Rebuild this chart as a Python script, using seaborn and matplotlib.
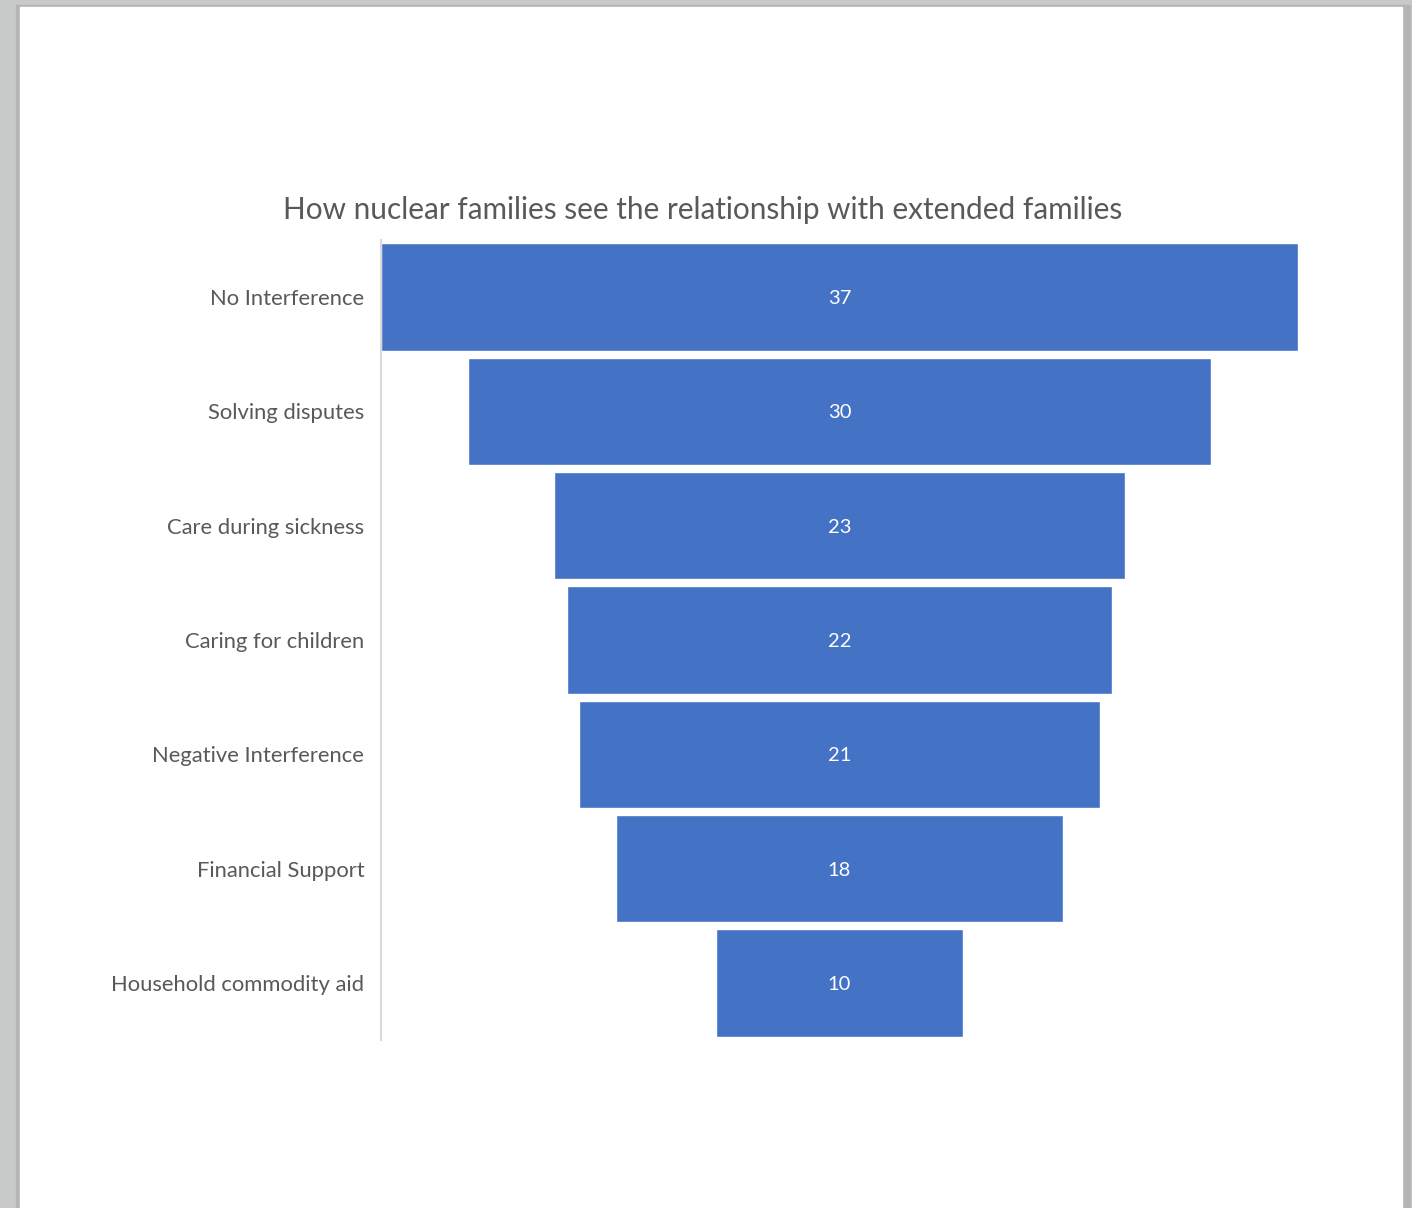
import pandas as pd
import seaborn as sns
import matplotlib.pyplot as plt
from matplotlib.patches import Rectangle

# 資料
categories = ['No Interference', 'Solving disputes', 'Care during sickness',
              'Caring for children', 'Negative Interference', 'Financial Support',
              'Household commodity aid']
values = [37, 30, 23, 22, 21, 18, 10]
title = 'How nuclear families see the relationship with extended families'

df = pd.DataFrame({'category': categories, 'value': values})

sns.set_theme(style='white')
plt.rcParams['font.family'] = ['Lato', 'DejaVu Sans']

fig = plt.figure(figsize=(14.12, 12.08), dpi=100, facecolor='#c8c9c9')
# page with a soft shadow
fig.patches.append(Rectangle((16 / 1412, 0), 1394 / 1412, 1 - 5 / 1208,
                             transform=fig.transFigure, color='#b4b5b5', zorder=-10))
fig.patches.append(Rectangle((20 / 1412, 0), 1382 / 1412, 1 - 7 / 1208,
                             transform=fig.transFigure, color='white', zorder=-9))

ax = fig.add_axes([381 / 1412, 168 / 1208, 917 / 1412, 800 / 1208])
ax.set_facecolor('none')
ax.set_zorder(5)

sns.barplot(data=df, x='value', y='category', orient='h', color='#4472C4',
            saturation=1, width=0.94, ax=ax)

# 置中成漏斗圖
for p in ax.patches:
    p.set_x(-p.get_width() / 2)

for i, v in enumerate(values):
    ax.text(0, i, str(v), color='white', ha='center', va='center_baseline',
            fontsize=14.5)

half = max(values) / 2
ax.set_xlim(-half, half)
ax.set_ylim(len(values) - 0.5, -0.5)
ax.set_xlabel('')
ax.set_ylabel('')
ax.set_xticks([])
ax.tick_params(axis='y', length=0, pad=12, labelsize=15.8, labelcolor='#595959')

for s in ['top', 'right', 'bottom']:
    ax.spines[s].set_visible(False)
ax.spines['left'].set_color('#d9d9d9')
ax.spines['left'].set_linewidth(1.5)

fig.text(703 / 1412, 1 - 207 / 1208, title, ha='center', va='center_baseline',
         fontsize=21.4, color='#595959', zorder=6)

plt.savefig('out.png', dpi=100, facecolor=fig.get_facecolor())
